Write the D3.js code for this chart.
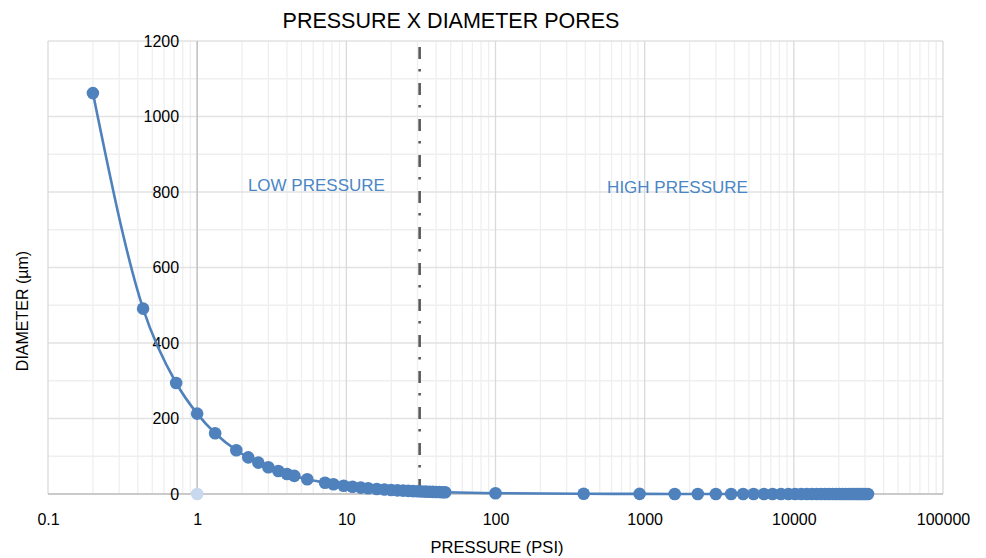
<!DOCTYPE html>
<html>
<head>
<meta charset="utf-8">
<script src="https://cdn.jsdelivr.net/npm/d3@7"></script>
<style>
  html, body { margin: 0; padding: 0; background: #fff; }
  svg { display: block; }
  text { font-family: "Liberation Sans", Arial, sans-serif; }
</style>
</head>
<body>
<svg id="chart" width="986" height="558"></svg>
<script>
// ---- data ----
const pressure = [0.2, 0.434, 0.723, 1.0, 1.32, 1.83, 2.2, 2.57, 3.0, 3.5, 4.0, 4.48, 5.47, 7.2, 8.2, 9.6,
  11, 12.5, 14, 16, 18, 20, 22, 24, 26, 28, 30, 32, 34, 36, 38, 40, 42, 44, 46,
  100, 390, 925, 1590, 2270, 3000, 3800, 4570, 5370,
  6300, 7200, 8200, 9200, 10200, 11200, 12200, 13200, 14200, 15200, 16200, 17200, 18200,
  19200, 20200, 21200, 22200, 23200, 24200, 25200, 26200, 27200, 28200, 29200, 30200, 31400];
const diameter = [1062, 491, 294, 213, 161, 116, 97, 83, 71, 61, 53, 48, 39, 30, 26, 22,
  19.4, 17, 15.2, 13.3, 11.8, 10.7, 9.7, 8.9, 8.2, 7.6, 7.1, 6.7, 6.3, 5.9, 5.6, 5.3, 5.1, 4.8, 4.6,
  2.1, 0.55, 0.23, 0.13, 0.09, 0.07, 0.06, 0.05, 0.04,
  0.034, 0.030, 0.026, 0.023, 0.021, 0.019, 0.017, 0.016, 0.015, 0.014, 0.013, 0.012, 0.012,
  0.011, 0.011, 0.010, 0.010, 0.009, 0.009, 0.008, 0.008, 0.008, 0.008, 0.007, 0.007, 0.007];
const extraPressure = [1];
const extraDiameter = [0];
const xTickLabels = ["0.1", "1", "10", "100", "1000", "10000", "100000"];
const yTickValues = [0, 200, 400, 600, 800, 1000, 1200];
const boundaryPressure = 31;
const regionLabels = ["LOW PRESSURE", "HIGH PRESSURE"];
const regionLabelPressure = [6.3, 1660];
const regionLabelDiameter = [802, 797];

// ---- layout ----
const svg = d3.select("#chart");
const pLeft = 48, pRight = 943, pTop = 41, pBottom = 494;
const x = d3.scaleLog().domain([0.1, 100000]).range([pLeft, pRight]);
const y = d3.scaleLinear().domain([0, 1200]).range([pBottom, pTop]);

const g = svg.append("g");
const minorX = [];
for (let k = -1; k <= 4; k++) for (let m = 2; m <= 9; m++) minorX.push(m * Math.pow(10, k));
g.selectAll(".vminor").data(minorX).enter().append("line")
  .attr("x1", d => x(d)).attr("x2", d => x(d)).attr("y1", pTop).attr("y2", pBottom)
  .attr("stroke", "#efefef").attr("stroke-width", 1.3);
const minorY = d3.range(100, 1200, 200);
g.selectAll(".hminor").data(minorY).enter().append("line")
  .attr("x1", pLeft).attr("x2", pRight).attr("y1", d => y(d)).attr("y2", d => y(d))
  .attr("stroke", "#efefef").attr("stroke-width", 1.3);
g.selectAll(".hmajor").data(yTickValues).enter().append("line")
  .attr("x1", pLeft).attr("x2", pRight).attr("y1", d => y(d)).attr("y2", d => y(d))
  .attr("stroke", "#e2e2e2").attr("stroke-width", 1.3);
g.selectAll(".vmajor").data(xTickLabels.map(Number)).enter().append("line")
  .attr("x1", d => x(d)).attr("x2", d => x(d)).attr("y1", pTop).attr("y2", pBottom)
  .attr("stroke", "#dadada").attr("stroke-width", 1.3);

g.append("line").attr("x1", x(1)).attr("x2", x(1)).attr("y1", pTop).attr("y2", pBottom)
  .attr("stroke", "#bfbfbf").attr("stroke-width", 1.3);
g.append("line").attr("x1", pLeft).attr("x2", pRight).attr("y1", pBottom).attr("y2", pBottom)
  .attr("stroke", "#bfbfbf").attr("stroke-width", 1.3);

const yAxis = d3.axisLeft(y).tickValues(yTickValues).tickFormat(d3.format("d"))
  .tickSize(0).tickPadding(18);
const ya = svg.append("g").attr("transform", `translate(${x(1)},0)`).call(yAxis);
ya.select(".domain").remove();
ya.selectAll("text").attr("font-size", 16).attr("fill", "#000")
  .attr("font-family", "'Liberation Sans', Arial, sans-serif");

const xAxis = d3.axisBottom(x).tickValues(xTickLabels.map(Number))
  .tickFormat((d, i) => xTickLabels[i]).tickSize(0).tickPadding(20);
const xa = svg.append("g").attr("transform", `translate(0,${pBottom})`).call(xAxis);
xa.select(".domain").remove();
xa.selectAll("text").attr("font-size", 16).attr("fill", "#000")
  .attr("font-family", "'Liberation Sans', Arial, sans-serif");

svg.append("line").attr("x1", x(boundaryPressure)).attr("x2", x(boundaryPressure))
  .attr("y1", 47).attr("y2", pBottom - 2)
  .attr("stroke", "#595959").attr("stroke-width", 2.6)
  .attr("stroke-dasharray", "12,10,2.5,11.5");

svg.selectAll(".region").data(regionLabels).enter().append("text")
  .attr("x", (d, i) => x(regionLabelPressure[i]))
  .attr("y", (d, i) => y(regionLabelDiameter[i]))
  .attr("text-anchor", "middle").attr("font-size", 17).attr("fill", "#4a86c5")
  .text(d => d);

const pts = pressure.map((p, i) => [x(p), y(diameter[i])]);
svg.append("path").attr("d", d3.line().curve(d3.curveMonotoneX)(pts))
  .attr("fill", "none").attr("stroke", "#4f81bd").attr("stroke-width", 2.6);
svg.selectAll(".pt").data(pts).enter().append("circle")
  .attr("cx", d => d[0]).attr("cy", d => d[1]).attr("r", 6.3)
  .attr("fill", "#4f81bd");
svg.selectAll(".xpt").data(extraPressure).enter().append("circle")
  .attr("cx", d => x(d)).attr("cy", (d, i) => y(extraDiameter[i])).attr("r", 6.3)
  .attr("fill", "#c8d8ee");

svg.append("text").attr("x", 451).attr("y", 28).attr("text-anchor", "middle")
  .attr("font-size", 21.5).attr("fill", "#000").text("PRESSURE X DIAMETER PORES");
svg.append("text").attr("x", 497).attr("y", 553).attr("text-anchor", "middle")
  .attr("font-size", 16.5).attr("fill", "#000").text("PRESSURE (PSI)");
svg.append("text").attr("transform", "translate(28,311) rotate(-90)").attr("text-anchor", "middle")
  .attr("font-size", 16).attr("fill", "#000").text("DIAMETER (µm)");
</script>
</body>
</html>
